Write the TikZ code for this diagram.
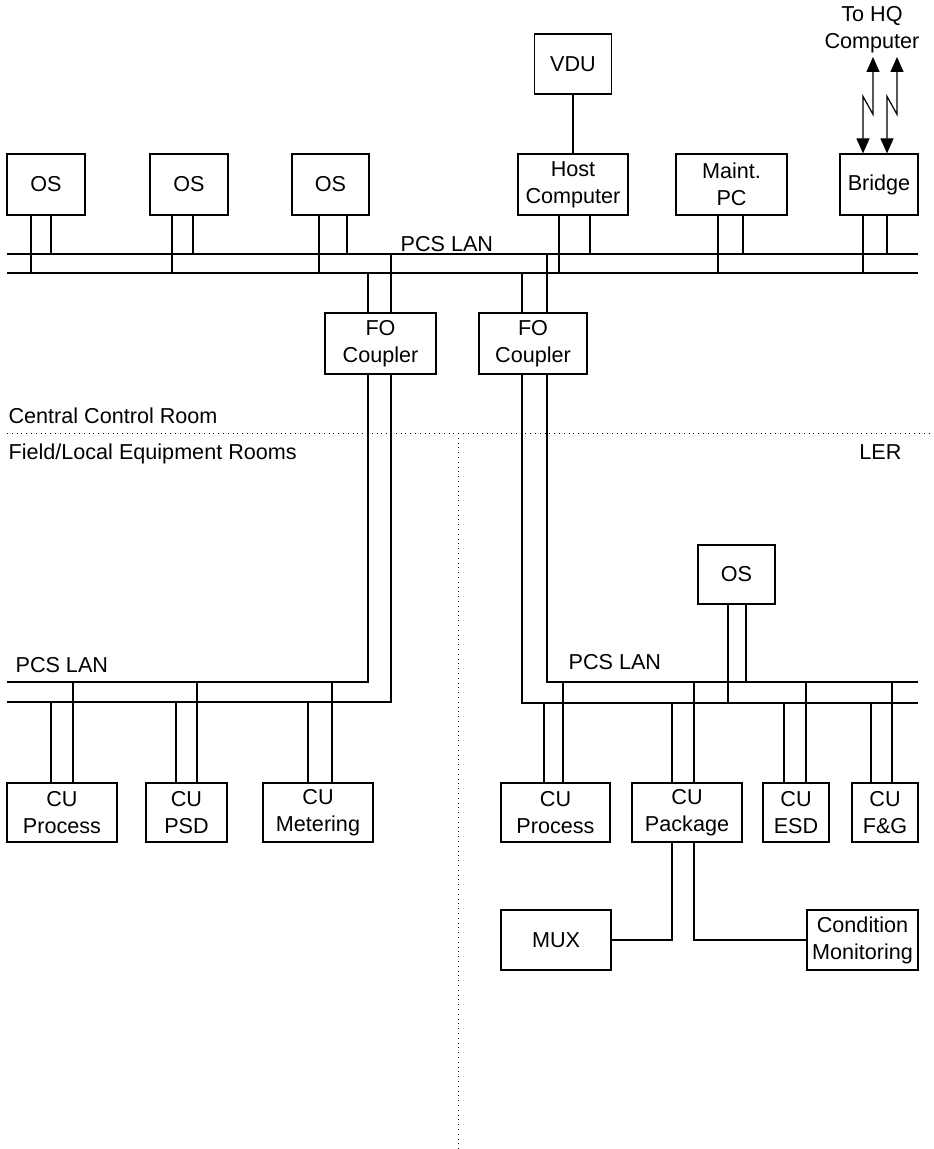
\documentclass[tikz,border=0pt]{standalone}
\usepackage{fontspec}
\setmainfont{Liberation Sans}
\usepackage{tikz}
\usetikzlibrary{arrows.meta}

\begin{document}
\begin{tikzpicture}[x=0.5pt,y=-0.5pt,line width=0.6pt,font=\fontsize{10.8}{13.5}\selectfont]
\tikzstyle{unit}=[draw,rectangle,inner sep=1pt,align=center,minimum height=30.5pt]
\tikzstyle{label}=[anchor=base west,inner sep=0pt]
\tikzstyle{room}=[dotted,line width=0.4pt]
\tikzstyle{link}=[{Triangle[width=6.5pt,length=7.5pt]}-{Triangle[width=6.5pt,length=7.5pt]}]

\useasboundingbox (0,0) rectangle (933,1149);

% central control room
\node[unit,minimum width=39pt] (os1) at (46,184.5) {OS};
\node[unit,minimum width=39pt] (os2) at (189,184.5) {OS};
\node[unit,minimum width=38.5pt] (os3) at (330.5,184.5) {OS};
\node[unit,minimum width=38.5pt,minimum height=30pt] (vdu) at (573,64) {VDU};
\node[unit,minimum width=55pt] (host) at (573,184.5) {Host\\Computer};
\node[unit,minimum width=55.5pt] (maint) at (731.5,184.5) {Maint.\\PC};
\node[unit,minimum width=39pt] (bridge) at (879,184.5) {Bridge};
\node[unit,minimum width=55.5pt] (fo1) at (380.5,343.5) {FO\\Coupler};
\node[unit,minimum width=54pt] (fo2) at (533,343.5) {FO\\Coupler};

\node[align=center,inner sep=0pt] (tohq) at (872,30) {To HQ\\Computer};
\coordinate (hq1) at (873,57);
\coordinate (hq2) at (897,57);

\coordinate (lanA) at (7,254);
\coordinate (lanAe) at (918,254);
\coordinate (lanB) at (7,273);
\coordinate (lanBe) at (918,273);
\draw (lanA) -- (lanAe);
\draw (lanB) -- (lanBe);
\node[label] (lantop) at (400,252) {PCS LAN};

\draw (vdu) -- (host);
\draw[link] ([xshift=-8pt]bridge.north) -- ++(0,-57) -- ++(10,18) -- (hq1);
\draw[link] ([xshift=4pt]bridge.north) -- ++(0,-57) -- ++(10,18) -- (hq2);

\draw ([xshift=-7.5pt]os1.south) -- ([xshift=-7.5pt]os1.south |- lanB);
\draw ([xshift=2.5pt]os1.south) -- ([xshift=2.5pt]os1.south |- lanA);
\draw ([xshift=-8.5pt]os2.south) -- ([xshift=-8.5pt]os2.south |- lanB);
\draw ([xshift=2pt]os2.south) -- ([xshift=2pt]os2.south |- lanA);
\draw ([xshift=-5.75pt]os3.south) -- ([xshift=-5.75pt]os3.south |- lanB);
\draw ([xshift=8.25pt]os3.south) -- ([xshift=8.25pt]os3.south |- lanA);
\draw ([xshift=-7pt]host.south) -- ([xshift=-7pt]host.south |- lanB);
\draw ([xshift=8.5pt]host.south) -- ([xshift=8.5pt]host.south |- lanA);
\draw ([xshift=-6.75pt]maint.south) -- ([xshift=-6.75pt]maint.south |- lanB);
\draw ([xshift=5.75pt]maint.south) -- ([xshift=5.75pt]maint.south |- lanA);
\draw ([xshift=-8pt]bridge.south) -- ([xshift=-8pt]bridge.south |- lanB);
\draw ([xshift=4pt]bridge.south) -- ([xshift=4pt]bridge.south |- lanA);
\draw ([xshift=-6.25pt]fo1.north) -- ([xshift=-6.25pt]fo1.north |- lanB);
\draw ([xshift=5.25pt]fo1.north) -- ([xshift=5.25pt]fo1.north |- lanA);
\draw ([xshift=-5.5pt]fo2.north) -- ([xshift=-5.5pt]fo2.north |- lanB);
\draw ([xshift=7pt]fo2.north) -- ([xshift=7pt]fo2.north |- lanA);

% rooms
\node[label] (ccr) at (8,423) {Central Control Room};
\node[label] (field) at (8,459) {Field/Local Equipment Rooms};
\node[anchor=base east,inner sep=0pt] (ler) at (902,459) {LER};
\draw[room] (7,433) -- (933,433);
\draw[room] (458,433) -- (458,1149);

% field equipment rooms
\coordinate (lanC) at (7,682);
\coordinate (lanD) at (7,702);
\coordinate (lanE) at (918,682);
\coordinate (lanF) at (918,703);
\draw ([xshift=-6.25pt]fo1.south) |- (lanC);
\draw ([xshift=5.25pt]fo1.south) |- (lanD);
\draw ([xshift=-5.5pt]fo2.south) |- (lanF);
\draw ([xshift=7pt]fo2.south) |- (lanE);
\node[label] (lanleft) at (15,672) {PCS LAN};
\node[label] (lanright) at (568,669) {PCS LAN};

\node[unit,minimum width=38.5pt,minimum height=29.5pt] (osler) at (736.5,574.5) {OS};

\node[unit,minimum width=55pt,minimum height=29.5pt] (cuproc1) at (62,812.5) {CU\\Process};
\node[unit,minimum width=40.5pt,minimum height=29.5pt] (cupsd) at (186.5,812.5) {CU\\PSD};
\node[unit,minimum width=55pt,minimum height=29.5pt] (cumeter) at (318,812.5) {CU\\Metering};
\node[unit,minimum width=54.5pt,minimum height=29.5pt] (cuproc2) at (555.5,812.5) {CU\\Process};
\node[unit,minimum width=55pt,minimum height=29.5pt] (cupack) at (687,812.5) {CU\\Package};
\node[unit,minimum width=33pt,minimum height=29.5pt] (cuesd) at (796,812.5) {CU\\ESD};
\node[unit,minimum width=33pt,minimum height=29.5pt] (cufg) at (885,812.5) {CU\\F\&G};
\node[unit,minimum width=55pt,minimum height=30pt] (mux) at (556,940) {MUX};
\node[unit,minimum width=55.5pt,minimum height=30pt] (cond) at (862.5,940) {Condition\\Monitoring};

\draw ([xshift=-5.5pt]cuproc1.north) -- ([xshift=-5.5pt]cuproc1.north |- lanD);
\draw ([xshift=5.5pt]cuproc1.north) -- ([xshift=5.5pt]cuproc1.north |- lanC);
\draw ([xshift=-5.25pt]cupsd.north) -- ([xshift=-5.25pt]cupsd.north |- lanD);
\draw ([xshift=5.25pt]cupsd.north) -- ([xshift=5.25pt]cupsd.north |- lanC);
\draw ([xshift=-5pt]cumeter.north) -- ([xshift=-5pt]cumeter.north |- lanD);
\draw ([xshift=7pt]cumeter.north) -- ([xshift=7pt]cumeter.north |- lanC);
\draw ([xshift=-5.75pt]cuproc2.north) -- ([xshift=-5.75pt]cuproc2.north |- lanF);
\draw ([xshift=3.75pt]cuproc2.north) -- ([xshift=3.75pt]cuproc2.north |- lanE);
\draw ([xshift=-7.5pt]cupack.north) -- ([xshift=-7.5pt]cupack.north |- lanF);
\draw ([xshift=3.5pt]cupack.north) -- ([xshift=3.5pt]cupack.north |- lanE);
\draw ([xshift=-6pt]cuesd.north) -- ([xshift=-6pt]cuesd.north |- lanF);
\draw ([xshift=5pt]cuesd.north) -- ([xshift=5pt]cuesd.north |- lanE);
\draw ([xshift=-7pt]cufg.north) -- ([xshift=-7pt]cufg.north |- lanF);
\draw ([xshift=3.5pt]cufg.north) -- ([xshift=3.5pt]cufg.north |- lanE);
\draw ([xshift=-4.25pt]osler.south) -- ([xshift=-4.25pt]osler.south |- lanF);
\draw ([xshift=4.75pt]osler.south) -- ([xshift=4.75pt]osler.south |- lanE);

\draw ([xshift=-7.5pt]cupack.south) |- (mux.east);
\draw ([xshift=3.5pt]cupack.south) |- (cond.west);

\end{tikzpicture}
\end{document}
